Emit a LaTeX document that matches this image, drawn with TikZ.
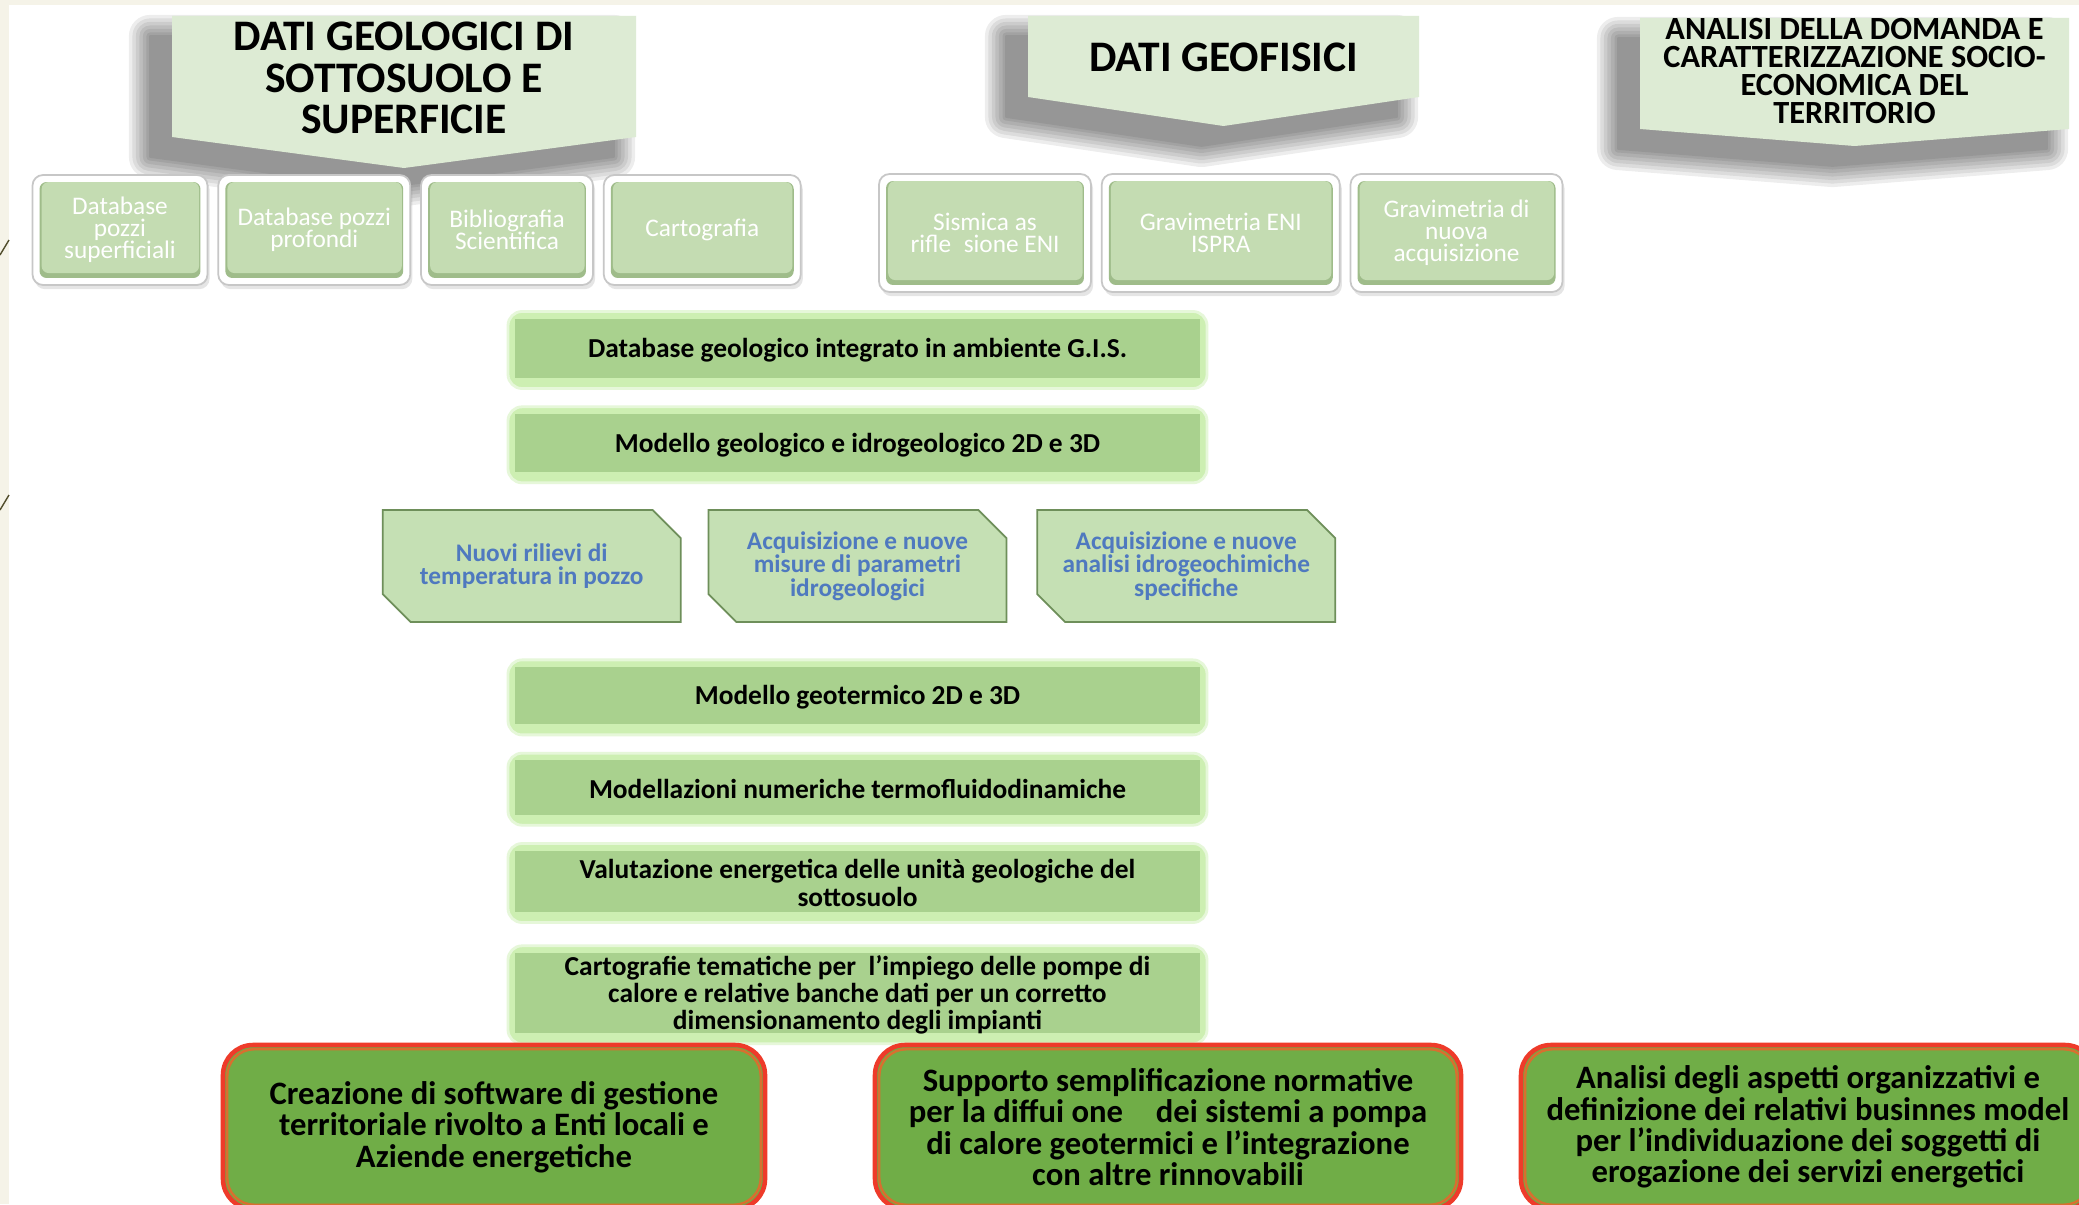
\documentclass[tikz,border=0pt]{standalone}
\usepackage{fontspec}
\setmainfont{Carlito}
\usetikzlibrary{positioning,shapes.misc,shadows}

\definecolor{headfill}{HTML}{DDEBD4}
\definecolor{datofill}{HTML}{C4DCB2}
\definecolor{datoshade}{HTML}{9FBC8A}
\definecolor{barfill}{HTML}{A9D18E}
\definecolor{barglow}{HTML}{CDEFB2}
\definecolor{snipfill}{HTML}{C5E0B4}
\definecolor{snipline}{HTML}{6E8F5A}
\definecolor{sniptext}{HTML}{4F79BF}
\definecolor{esitofill}{HTML}{70AD47}
\definecolor{esitoline}{HTML}{EE3B2A}
\definecolor{esitoedge}{HTML}{D7702F}
\definecolor{slidecream}{HTML}{F5F3E8}

\begin{document}
\begin{tikzpicture}[
        testata/.style={fill=headfill},
        headshade/.style={fill=black, draw=black, line join=round},
        headtext/.style={align=center, inner sep=0pt, font=\bfseries\fontsize{12.4}{11.8}\selectfont},
        dato/.style={rectangle, rounded corners=3pt, fill=white, draw=black!22, line width=0.5pt,
            drop shadow={opacity=0.2, shadow xshift=0.6pt, shadow yshift=-1.2pt},
            inner sep=0pt, align=center, text=white, font=\fontsize{7.2}{6.3}\selectfont,
            path picture={
                \fill[datoshade, rounded corners=2pt] ([shift={(2pt,2pt)}]path picture bounding box.south west) rectangle ([shift={(-2pt,-2pt)}]path picture bounding box.north east);
                \fill[datofill, rounded corners=2pt] ([shift={(2.6pt,3.4pt)}]path picture bounding box.south west) rectangle ([shift={(-2.4pt,-2pt)}]path picture bounding box.north east);
            }},
        stadio/.style={rectangle, rounded corners=4pt, fill=barglow, draw=barglow!50!white, line width=0.8pt,
            minimum width=6.99cm, inner sep=0pt, align=center, font=\bfseries\fontsize{7.8}{7.8}\selectfont,
            path picture={
                \fill[barfill, sharp corners] ([shift={(2pt,3pt)}]path picture bounding box.south west) rectangle ([shift={(-2pt,-2pt)}]path picture bounding box.north east);
            }},
        snip/.style={chamfered rectangle, chamfered rectangle corners={north east,south west},
            chamfered rectangle sep=0.14cm, fill=snipfill, draw=snipline, line width=0.5pt,
            minimum width=2.98cm, minimum height=1.12cm, inner sep=0pt, align=center,
            text=sniptext, font=\bfseries\fontsize{7.2}{6.6}\selectfont},
        esito/.style={rectangle, rounded corners=0.3cm, fill=esitofill, draw=esitoline, line width=1.3pt,
            minimum height=1.64cm, inner sep=0pt, align=center, font=\bfseries\fontsize{9.3}{8.9}\selectfont,
            path picture={
                \draw[esitoedge, line width=0.7pt, rounded corners=0.27cm] ([shift={(1.2pt,1.2pt)}]path picture bounding box.south west) rectangle ([shift={(-1.2pt,-1.2pt)}]path picture bounding box.north east);
            }},
        node distance=0.09cm
    ]
        % Slide background
        \useasboundingbox (0,0) rectangle (20.79,-12.04);
        \clip (0,0) rectangle (20.79,-12.04);
        \fill[slidecream] (0,0) rectangle (20.79,-12.04);
        \fill[white] (0.09,-0.05) rectangle (20.79,-12.04);
        \draw[black!55!olive, line width=0.4pt] (0,-2.55) -- (0.09,-2.40) (0,-5.10) -- (0.09,-4.95);

        % Header shadows (soft, to the lower left)
        \foreach \w in {12,10,8,6,4,2,0.5}{
            \begin{scope}[shift={(-0.22,-0.2)}, transparency group, opacity=0.07]
                \filldraw[headshade, line width=\w pt]
                    (1.72,-0.16) -- (6.36,-0.16) -- (6.36,-1.37) -- (4.04,-1.68) -- (1.72,-1.37) -- cycle
                    (10.28,-0.16) -- (14.19,-0.16) -- (14.19,-0.97) -- (12.235,-1.26) -- (10.28,-0.97) -- cycle
                    (16.40,-0.18) -- (20.69,-0.18) -- (20.69,-1.29) -- (18.545,-1.46) -- (16.40,-1.29) -- cycle;
            \end{scope}
        }

        % Headers
        \fill[testata] (1.72,-0.16) -- (6.36,-0.16) -- (6.36,-1.37) -- (4.04,-1.68) -- (1.72,-1.37) -- cycle;
        \fill[testata] (10.28,-0.16) -- (14.19,-0.16) -- (14.19,-0.97) -- (12.235,-1.26) -- (10.28,-0.97) -- cycle;
        \fill[testata] (16.40,-0.18) -- (20.69,-0.18) -- (20.69,-1.29) -- (18.545,-1.46) -- (16.40,-1.29) -- cycle;
        \node[headtext] (geologici) at (4.04,-0.78) {DATI GEOLOGICI DI\\SOTTOSUOLO E\\SUPERFICIE};
        \node[headtext] (geofisici) at (12.235,-0.57) {DATI GEOFISICI};
        \node[headtext, font=\bfseries\fontsize{9.2}{8}\selectfont] (domanda) at (18.545,-0.71) {ANALISI DELLA DOMANDA E\\CARATTERIZZAZIONE SOCIO-\\ECONOMICA DEL\\TERRITORIO};

        % Geological data sources
        \node[dato, minimum width=1.75cm, minimum height=1.10cm] (dbsup) at (1.20,-2.30) {Database\\pozzi\\superficiali};
        \node[dato, minimum width=1.92cm, minimum height=1.10cm, right=of dbsup] (dbprof) {Database pozzi\\profondi};
        \node[dato, minimum width=1.72cm, minimum height=1.10cm, right=of dbprof] (biblio) {Bibliografia\\Scientifica};
        \node[dato, minimum width=1.97cm, minimum height=1.10cm, right=of biblio] (carto) {Cartografia};

        % Geophysical data sources
        \node[dato, minimum width=2.12cm, minimum height=1.18cm] (sismica) at (9.85,-2.33) {Sismica as\\rifle\enspace sione ENI};
        \node[dato, minimum width=2.38cm, minimum height=1.18cm, right=of sismica] (gravieni) {Gravimetria ENI\\ISPRA};
        \node[dato, minimum width=2.12cm, minimum height=1.18cm, right=of gravieni] (gravinuova) {Gravimetria di\\nuova\\acquisizione};

        % Main workflow
        \node[stadio, minimum height=0.77cm] (gis) at (8.575,-3.50) {Database geologico integrato in ambiente G.I.S.};
        \node[stadio, minimum height=0.76cm, below=0.155cm of gis] (idro) {Modello geologico e idrogeologico 2D e 3D};
        \node[snip, below=0.25cm of idro] (parametri) {Acquisizione e nuove\\misure di parametri\\idrogeologici};
        \node[snip, left=0.26cm of parametri] (rilievi) {Nuovi rilievi di\\temperatura in pozzo};
        \node[snip, right=0.29cm of parametri] (chimiche) {Acquisizione e nuove\\analisi idrogeochimiche\\specifiche};
        \node[stadio, minimum height=0.75cm, below=0.355cm of parametri] (geotermico) {Modello geotermico 2D e 3D};
        \node[stadio, minimum height=0.72cm, below=0.155cm of geotermico] (termofluido) {Modellazioni numeriche termofluidodinamiche};
        \node[stadio, minimum height=0.79cm, below=0.155cm of termofluido] (valutazione) {Valutazione energetica delle unità geologiche del\\sottosuolo};
        \node[stadio, minimum height=0.98cm, below=0.205cm of valutazione] (cartotema) {Cartografie tematiche per\ \ l’impiego delle pompe di\\calore e relative banche dati per un corretto\\dimensionamento degli impianti};

        % Results
        \node[esito, minimum width=5.42cm] (software) at (4.94,-11.27) {Creazione di software di gestione\\territoriale rivolto a Enti locali e\\Aziende energetiche};
        \node[esito, minimum width=5.86cm] (normative) at (11.68,-11.27) {Supporto semplificazione normative\\per la diffui one\quad dei sistemi a pompa\\di calore geotermici e l’integrazione\\con altre rinnovabili};
        \node[esito, minimum width=5.74cm] (business) at (18.08,-11.27) {Analisi degli aspetti organizzativi e\\definizione dei relativi businnes model\\per l’individuazione dei soggetti di\\erogazione dei servizi energetici};

    \end{tikzpicture}
\end{document}
